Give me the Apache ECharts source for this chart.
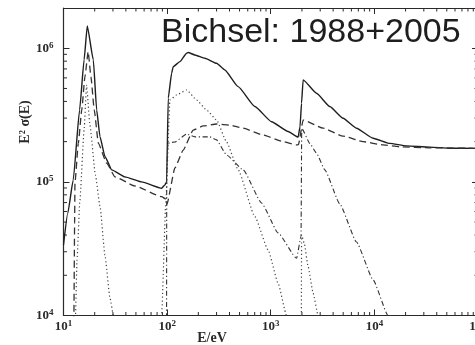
<!DOCTYPE html>
<html><head><meta charset="utf-8">
<script src="https://cdn.jsdelivr.net/npm/echarts@6/dist/echarts.min.js"></script>
<style>html,body{margin:0;padding:0;background:#fff}#c{width:475px;height:345px}</style>
</head><body><div id="c"></div>
<script>
// ---- axis settings / tick values ----
const xMin = 10, xMax = 100000, yMin = 10000, yMax = 2000000;
const xMinorTicks = [20,30,40,50,60,70,80,90,200,300,400,500,600,700,800,900,
  2000,3000,4000,5000,6000,7000,8000,9000,20000,30000,40000,50000,60000,70000,80000,90000];
const yMinorTicks = [20000,30000,40000,50000,60000,70000,80000,90000,
  200000,300000,400000,500000,600000,700000,800000,900000];
const titleText = 'Bichsel: 1988+2005';
const xAxisTitle = 'E/eV';
const yAxisTitle = 'E\u00b2 \u03c3(E)';

// ---- solid: total ----
const totalE = [10,11.0,12.4,14.3,15.8,16.96,19.4,20.9,22.5,25.1,29.2,39.2,56.7,88.5,95.2,98.9,102.5,110.5,114.5,132.9,154.2,159.8,185.4,231.5,300,360.6,484.8,702.6,1018,1472,1837,1917,1982,2053,2765,3716,4993,6721,9716,14080,20390,34200,53300,100000];
const totalV = [3.37e4,5.85e4,1.03e5,3.45e5,8.17e5,1.47e6,8.17e5,3.45e5,2.18e5,1.55e5,1.23e5,1.09e5,1.0e5,8.96e4,9.5e4,1.0e5,4.23e5,6.5e5,7.28e5,7.94e5,9.18e5,9.28e5,8.91e5,8.41e5,7.72e5,6.88e5,5.16e5,3.66e5,2.82e5,2.38e5,2.16e5,2.59e5,3.87e5,5.8e5,4.6e5,3.66e5,2.99e5,2.52e5,2.12e5,1.94e5,1.86e5,1.82e5,1.785e5,1.78e5];

// ---- dashed ----
const dashE = [12.4,12.6,12.8,12.9,13.9,15.0,16.1,17.3,18.4,19.8,21.7,26.1,31.4,48.9,88.5,97.3,99.5,118.9,143,178.5,222.9,300.1,403.3,541.9,844.9,1317,1774,1850,2053,3202,4990,7780,12130,17580,34200,100000];
const dashV = [5e3,1.0e4,5e4,9.8e4,1.94e5,3.45e5,6.12e5,9.44e5,6.12e5,3.45e5,1.94e5,1.38e5,1.09e5,9.31e4,7.75e4,7.44e4,6.8e4,1.27e5,1.73e5,2.44e5,2.62e5,2.71e5,2.66e5,2.52e5,2.24e5,2.0e5,1.89e5,1.9e5,2.9e5,2.52e5,2.2e5,2.0e5,1.89e5,1.83e5,1.8e5,1.78e5];

// ---- dotted ----
const dotE = [12.9,13.05,13.5,14.4,15.8,16.7,18.0,20.3,22.5,25.1,28.1,30.3,32.1,60,86,88.5,97.3,106.4,123.5,154.2,192.5,240.4,300,374.8,484.8,702.6,944,1178,1420,1500,1900,1965,1985,2100,2295,2564,2864,3000];
const dotV = [5e3,1e4,2.6e4,7.3e4,2.44e5,5.3e5,2.66e5,1.13e5,6.6e4,2.84e4,1.35e4,1e4,7.7e3,3e3,5e3,1e4,7.3e4,4.1e5,4.47e5,4.87e5,4.1e5,3.45e5,2.9e5,1.99e5,1.23e5,5.49e4,3.09e4,1.74e4,1e4,5e3,3e3,3e3,4.0e4,3.5e4,2.32e4,1.47e4,1e4,6e3];

// ---- dash-dot ----
const ddE = [98.6,99.2,101.8,118.9,154.2,185.4,258.7,300,374.8,541.9,815.3,1178,1774,1960,1990,2383,2765,3325,4634,6721,9716,13550,15000];
const ddV = [3e3,1.2e5,1.95e5,1.99e5,2.28e5,2.17e5,2.17e5,2.06e5,1.59e5,1.23e5,6.95e4,4.15e4,2.68e4,3.9e4,2.52e5,1.94e5,1.64e5,1.23e5,6.84e4,3.55e4,1.85e4,1e4,5e3];

const pairs = (xs, ys) => xs.map((x, i) => [x, ys[i]]);
const INK = '#2a2a2a';
const labelFont = '"Liberation Serif", serif';

function powLabel(v) {
  const l = Math.log10(v), e = Math.round(l);
  if (Math.abs(l - e) > 1e-6) return '';
  return '10{s|' + e + '}';
}
const richLab = {
  s: { fontSize: 9, lineHeight: 9, verticalAlign: 'top', fontFamily: labelFont, fontWeight: 'bold', color: INK }
};

function baseLine(name, data, type, width, color) {
  return {
    name, type: 'line', data, showSymbol: false, symbol: 'none', clip: true,
    smooth: 0.15, smoothMonotone: 'x',
    lineStyle: { type, width, color }, animation: false, silent: true, z: 5
  };
}

const axisCommon = {
  type: 'log', logBase: 10,
  axisLine: { show: true, lineStyle: { color: INK, width: 1.2 } },
  axisTick: { show: true, inside: true, length: 6, lineStyle: { color: INK, width: 1 } },
  splitLine: { show: false }
};
const labelStyle = { formatter: powLabel, color: INK, fontSize: 13, fontWeight: 'bold', fontFamily: labelFont, lineHeight: 15, rich: richLab };

const chart = echarts.init(document.getElementById('c'), null, { renderer: 'canvas' });
chart.setOption({
  animation: false,
  backgroundColor: '#fff',
  grid: { left: 63.5, right: -3, top: 8, bottom: 29.5, containLabel: false, outerBoundsMode: 'none' },
  xAxis: [
    Object.assign({}, axisCommon, { min: xMin, max: xMax, axisLabel: Object.assign({ margin: 4 }, labelStyle) }),
    Object.assign({}, axisCommon, { min: xMin, max: xMax, position: 'top', axisLabel: { show: false } })
  ],
  yAxis: [
    Object.assign({}, axisCommon, { min: yMin, max: yMax, axisLabel: Object.assign({ margin: 10 }, labelStyle) }),
    Object.assign({}, axisCommon, { min: yMin, max: yMax, position: 'right', axisLabel: { show: false } })
  ],
  graphic: [
    { type: 'text', left: 161, top: 16, silent: true,
      style: { text: titleText, font: '34px "Liberation Sans", Arial, sans-serif', fill: '#1e1e1e' } },
    { type: 'text', x: 25, y: 122, rotation: Math.PI / 2, silent: true,
      style: { text: yAxisTitle, font: 'bold 14px "Liberation Serif", serif', fill: INK, align: 'center', verticalAlign: 'middle' } },
    { type: 'text', x: 212, y: 338, silent: true,
      style: { text: xAxisTitle, font: 'bold 14px "Liberation Serif", serif', fill: INK, align: 'center', verticalAlign: 'middle' } }
  ],
  series: [
    baseLine('total', pairs(totalE, totalV), 'solid', 1.4, '#1e1e1e'),
    baseLine('dashed', pairs(dashE, dashV), [7, 4], 1.3, '#333'),
    baseLine('dotted', pairs(dotE, dotV), [1.2, 2.6], 1.2, '#444'),
    baseLine('dashdot', pairs(ddE, ddV), [5, 2.5, 1.2, 2.5], 1.1, '#333'),
    {
      type: 'custom', silent: true, animation: false, z: 4,
      data: xMinorTicks.map(v => [v, yMin]),
      renderItem: (params, api) => {
        const b = api.coord([api.value(0), yMin]);
        const t = api.coord([api.value(0), yMax]);
        return { type: 'group', children: [
          { type: 'line', shape: { x1: b[0], y1: b[1], x2: b[0], y2: b[1] - 3.5 }, style: { stroke: INK, lineWidth: 1 } },
          { type: 'line', shape: { x1: t[0], y1: t[1], x2: t[0], y2: t[1] + 3.5 }, style: { stroke: INK, lineWidth: 1 } }
        ] };
      }
    },
    {
      type: 'custom', silent: true, animation: false, z: 4,
      data: yMinorTicks.map(v => [xMin, v]),
      renderItem: (params, api) => {
        const l = api.coord([xMin, api.value(1)]);
        const r = api.coord([xMax, api.value(1)]);
        return { type: 'group', children: [
          { type: 'line', shape: { x1: l[0], y1: l[1], x2: l[0] + 3.5, y2: l[1] }, style: { stroke: INK, lineWidth: 1 } },
          { type: 'line', shape: { x1: r[0], y1: r[1], x2: r[0] - 3.5, y2: r[1] }, style: { stroke: INK, lineWidth: 1 } }
        ] };
      }
    }
  ]
});
</script></body></html>
